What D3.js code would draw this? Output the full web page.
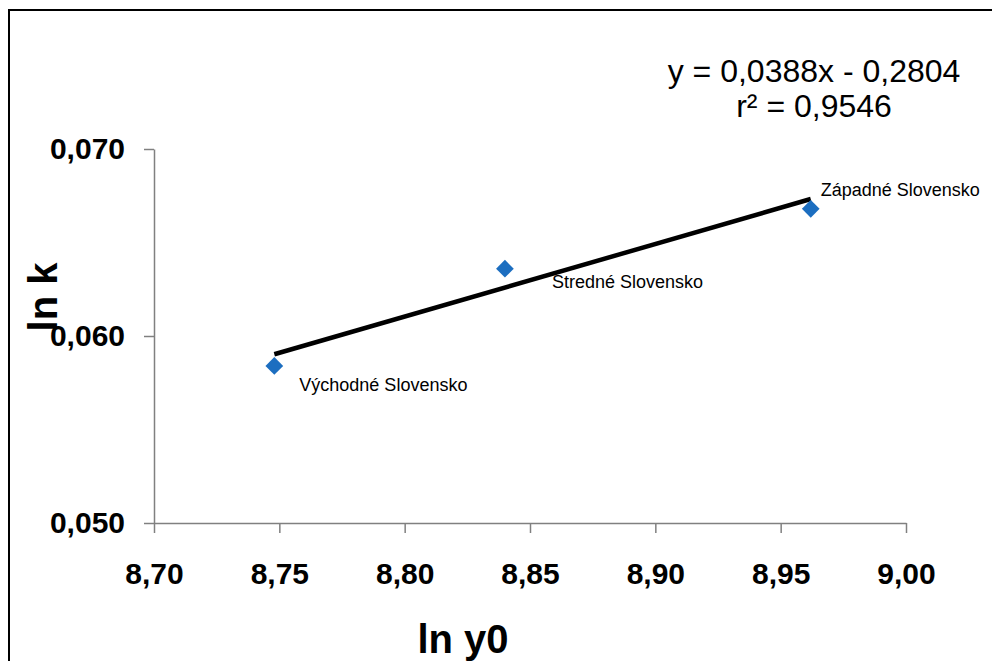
<!DOCTYPE html>
<html>
<head>
<meta charset="utf-8">
<script src="https://cdn.jsdelivr.net/npm/d3@7"></script>
<style>
  body { margin: 0; background: #fff; }
  svg { display: block; font-family: "Liberation Sans", Arial, sans-serif; }
</style>
</head>
<body>
<svg id="chart" width="992" height="661"></svg>
<script>
// data
var regions = ['Východné Slovensko', 'Stredné Slovensko', 'Západné Slovensko'];
var lnY0 = [8.748, 8.840, 8.962];
var lnK = [0.0584, 0.0636, 0.0668];
var xTicks = [8.70, 8.75, 8.80, 8.85, 8.90, 8.95, 9.00];
var yTicks = [0.050, 0.060, 0.070];
var trend = [0.0388, -0.2804]; // slope, intercept
var rSquared = 0.9546;

var svg = d3.select('#chart');
var fmt = (n, d) => n.toFixed(d).replace('.', ',');

// outer frame
svg.append('rect').attr('x', 9).attr('y', 10).attr('width', 1000).attr('height', 700)
  .style('fill', 'none').style('stroke', '#000').style('stroke-width', 2);

var x = d3.scaleLinear().domain([8.70, 9.00]).range([154, 906]);
var y = d3.scaleLinear().domain([0.050, 0.070]).range([523, 149]);

var xAxis = svg.append('g').attr('transform', 'translate(0,523)')
  .call(d3.axisBottom(x).tickValues(xTicks).tickFormat(d => fmt(d, 2)).tickSize(10).tickPadding(30).tickSizeOuter(0));
var yAxis = svg.append('g').attr('transform', 'translate(154,0)')
  .call(d3.axisLeft(y).tickValues(yTicks).tickFormat(d => fmt(d, 3)).tickSize(10).tickPadding(19).tickSizeOuter(0));

[xAxis, yAxis].forEach(a => {
  a.select('.domain').style('stroke', '#808080').style('stroke-width', 1.5);
  a.selectAll('.tick line').style('stroke', '#808080').style('stroke-width', 1.5);
  a.selectAll('.tick text').style('font-size', '30px').style('font-weight', 'bold')
    .style('fill', '#000').style('font-family', '"Liberation Sans", Arial, sans-serif');
});

// trend line over the data range
var xExt = d3.extent(lnY0);
var line = d3.line().x(d => x(d)).y(d => y(trend[0] * d + trend[1]));
svg.append('path').datum(xExt).attr('d', line)
  .style('fill', 'none').style('stroke', '#000').style('stroke-width', 4.5);

// points
var sym = d3.symbol().type(d3.symbolDiamond2).size(200);
svg.selectAll('.pt').data(lnY0).enter().append('path').attr('class', 'pt')
  .attr('d', sym)
  .attr('transform', (d, i) => 'translate(' + x(d) + ',' + y(lnK[i]) + ')')
  .style('fill', '#1c6ec0');

// point labels
var labelShift = [[25, 25], [47, 19], [10, -13]];
svg.selectAll('.lbl').data(regions).enter().append('text').attr('class', 'lbl')
  .attr('x', (d, i) => x(lnY0[i]) + labelShift[i][0])
  .attr('y', (d, i) => y(lnK[i]) + labelShift[i][1])
  .style('font-size', '18px').text(d => d);

// equation
var eq = svg.append('text').attr('text-anchor', 'middle').style('font-size', '32px');
eq.append('tspan').attr('x', 814).attr('y', 82)
  .text('y = ' + fmt(trend[0], 4) + 'x - ' + fmt(-trend[1], 4));
eq.append('tspan').attr('x', 814).attr('y', 117).text('r² = ' + fmt(rSquared, 4));

// axis titles
svg.append('text').attr('x', 463).attr('y', 653).attr('text-anchor', 'middle')
  .style('font-size', '40px').style('font-weight', 'bold').text('ln y0');
svg.append('text').attr('transform', 'translate(57,297) rotate(-90)').attr('text-anchor', 'middle')
  .style('font-size', '40px').style('font-weight', 'bold').text('ln k');
</script>
</body>
</html>
